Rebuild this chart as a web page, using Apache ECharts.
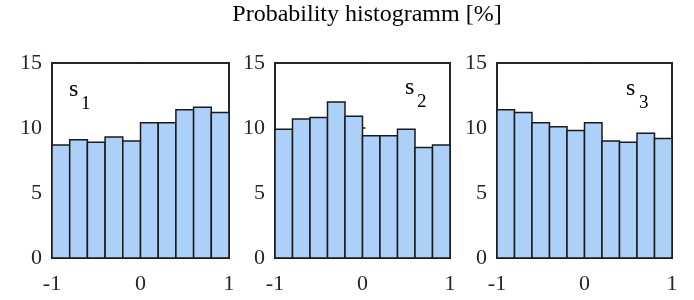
<!DOCTYPE html>
<html>
<head>
<meta charset="utf-8">
<script src="https://cdn.jsdelivr.net/npm/echarts@6/dist/echarts.min.js"></script>
<style>
  html, body { margin: 0; padding: 0; background: #fff; }
  #chart { width: 694px; height: 300px; }
</style>
</head>
<body>
<div id="chart"></div>
<script>
// bin edges of the histogram (10 bins from -1 to 1)
var binEdges = [-1, -0.8, -0.6, -0.4, -0.2, 0, 0.2, 0.4, 0.6, 0.8, 1];
// probability per bin [%]
var s1 = [8.7, 9.1, 8.9, 9.3, 9.0, 10.4, 10.4, 11.4, 11.6, 11.2];
var s2 = [9.9, 10.7, 10.8, 12.0, 10.9, 9.4, 9.4, 9.9, 8.5, 8.7];
var s3 = [11.4, 11.2, 10.4, 10.1, 9.8, 10.4, 9.0, 8.9, 9.6, 9.2];
var panelNames = ['1', '2', '3'];
var xTicks = [-1, 0, 1];
var yTicks = [0, 5, 10, 15];

var font = '"Liberation Serif", "DejaVu Serif", serif';
var ink = '#262626';

var panels = [s1, s2, s3];
var grids = [
  { left: 52, top: 63, width: 177, height: 195 },
  { left: 275, top: 63, width: 175, height: 195 },
  { left: 497, top: 63, width: 175, height: 195 }
];

function bins(vals) {
  return vals.map(function (v, i) { return [binEdges[i], binEdges[i + 1], v]; });
}

function renderBar(params, api) {
  var p0 = api.coord([api.value(0), api.value(2)]);
  var p1 = api.coord([api.value(1), 0]);
  return {
    type: 'rect',
    shape: { x: p0[0], y: p0[1], width: p1[0] - p0[0], height: p1[1] - p0[1] },
    style: { fill: '#acd0f7', stroke: '#1a1a1a', lineWidth: 1.5 }
  };
}

var option = {
  animation: false,
  title: {
    text: 'Probability histogramm [%]',
    left: 362, top: -2, textAlign: 'center',
    textStyle: { fontFamily: font, fontSize: 24, fontWeight: 'normal', color: '#000' }
  },
  grid: grids.map(function (g) {
    return Object.assign({ show: true, borderColor: ink, borderWidth: 2, backgroundColor: '#fff' }, g);
  }),
  xAxis: grids.map(function (g, i) {
    return {
      type: 'value', gridIndex: i, min: xTicks[0], max: xTicks[xTicks.length - 1], interval: 1,
      axisLine: { show: false },
      axisTick: { show: true, inside: true, length: 3, lineStyle: { color: ink, width: 1.5 } },
      splitLine: { show: false },
      axisLabel: { margin: 15, fontFamily: font, fontSize: 22, color: ink }
    };
  }),
  yAxis: grids.map(function (g, i) {
    return {
      type: 'value', gridIndex: i, min: yTicks[0], max: yTicks[yTicks.length - 1], interval: 5,
      axisLine: { show: false },
      axisTick: { show: true, inside: true, length: 3, lineStyle: { color: ink, width: 1.5 } },
      splitLine: { show: false },
      axisLabel: { margin: 10, fontFamily: font, fontSize: 22, color: ink }
    };
  }),
  series: panels.map(function (vals, i) {
    return {
      type: 'custom', xAxisIndex: i, yAxisIndex: i,
      renderItem: renderBar,
      encode: { x: [0, 1], y: 2 },
      data: bins(vals)
    };
  }),
  graphic: [
    { type: 'text', left: 69, top: 78, style: { text: 's', font: '24px ' + font, fill: '#000' } },
    { type: 'text', left: 81, top: 95, style: { text: panelNames[0], font: '19px ' + font, fill: '#000' } },
    { type: 'text', left: 405, top: 76, style: { text: 's', font: '24px ' + font, fill: '#000' } },
    { type: 'text', left: 417, top: 93, style: { text: panelNames[1], font: '19px ' + font, fill: '#000' } },
    { type: 'text', left: 626, top: 77, style: { text: 's', font: '24px ' + font, fill: '#000' } },
    { type: 'text', left: 639, top: 94, style: { text: panelNames[2], font: '19px ' + font, fill: '#000' } }
  ]
};

var chart = echarts.init(document.getElementById('chart'));
chart.setOption(option);
</script>
</body>
</html>
